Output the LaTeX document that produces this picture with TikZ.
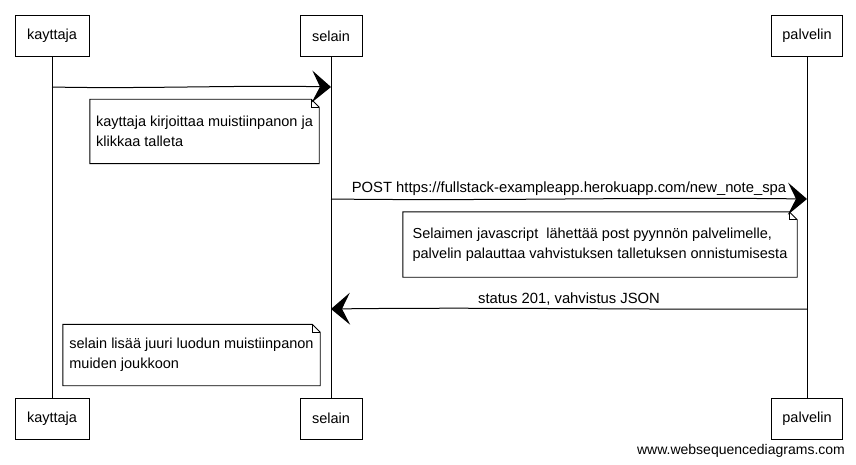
\documentclass[tikz,border=0pt]{standalone}
\usepackage{fontspec}
\setmainfont{Liberation Sans}
\usetikzlibrary{arrows.meta}
\begin{document}
\begin{tikzpicture}[x=1pt,y=-1pt,
  every node/.style={font=\fontsize{14.5}{20}\selectfont},
  actor/.style={draw, line width=0.9pt, minimum height=41pt, inner sep=0pt},
  life/.style={line width=0.9pt},
  msg/.style={line width=1pt, -{Stealth[length=19pt,width=32pt,inset=8pt]}},
  note/.style={align=left, inner sep=0pt},
  noteline/.style={line width=0.9pt},
  lbl/.style={midway, yshift=10pt, font=\fontsize{14.8}{20}\selectfont}
]
\useasboundingbox (0,0) rectangle (856,465);
% actors top
\node[actor, minimum width=74pt] (kt) at (52,36) {kayttaja};
\node[actor, minimum width=62pt] (st) at (331,36) {selain};
\node[actor, minimum width=71pt] (pt) at (807,36) {palvelin};
% actors bottom
\node[actor, minimum width=74pt] (kb) at (52,418.5) {kayttaja};
\node[actor, minimum width=62pt] (sb) at (331,418.5) {selain};
\node[actor, minimum width=71pt] (pb) at (807,418.5) {palvelin};
% lifelines
\draw[life] (kt) -- (kb);
\draw[life] (st) -- (sb);
\draw[life] (pt) -- (pb);
% message points
\coordinate (k1) at (52,87);
\coordinate (s1) at (331,87);
\coordinate (s2) at (331,199);
\coordinate (p2) at (807,199);
\coordinate (p3) at (807,309);
\coordinate (s3) at (331,309);
% messages
\draw[msg] (k1) .. controls (140,89) and (243,85) .. (s1);
\draw[msg] (s2) .. controls (490,201) and (648,197) .. (p2) node[lbl] {POST https://fullstack-exampleapp.herokuapp.com/new\_note\_spa};
\draw[msg] (p3) .. controls (648,310) and (490,307) .. (s3) node[lbl] {status 201, vahvistus JSON};
% notes
\node[note, minimum width=229pt, minimum height=64pt] (n1) at (204.5,131.5)
  {kayttaja kirjoittaa muistiinpanon ja\\klikkaa talleta};
\node[note, minimum width=394pt, minimum height=65pt] (n2) at (600,244.5)
  {Selaimen javascript\ \ lähettää post pyynnön palvelimelle,\\palvelin palauttaa vahvistuksen talletuksen onnistumisesta};
\node[note, minimum width=257pt, minimum height=61pt] (n3) at (191.5,355)
  {selain lisää juuri luodun muistiinpanon\\muiden joukkoon};
\foreach \n in {n1,n2,n3}{
  \draw[noteline] (\n.north west) -- ([xshift=-8pt]\n.north east) -- ([yshift=-8pt]\n.north east) -- (\n.south east) -- (\n.south west) -- cycle;
  \draw[noteline] ([xshift=-8pt]\n.north east) |- ([yshift=-8pt]\n.north east);
}
% watermark
\node[font=\fontsize{14}{16}\selectfont] (wm) at (741,451) {www.websequencediagrams.com};
\end{tikzpicture}
\end{document}
